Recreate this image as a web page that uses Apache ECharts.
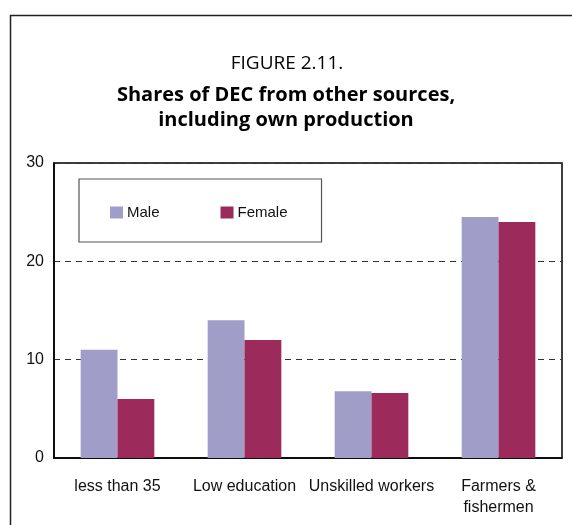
<!DOCTYPE html>
<html>
<head>
<meta charset="utf-8">
<script src="https://cdn.jsdelivr.net/npm/echarts@6/dist/echarts.min.js"></script>
<style>html,body{margin:0;padding:0;background:#fff}#c{width:572px;height:525px}</style>
</head>
<body>
<div id="c"></div>
<script>
var categories = ['less than 35', 'Low education', 'Unskilled workers', 'Farmers &\nfishermen'];
var maleValues = [11.0, 14.0, 6.8, 24.5];
var femaleValues = [6.0, 12.0, 6.6, 24.0];
var seriesNames = ['Male', 'Female'];
var yTicks = [0, 10, 20, 30];

var chart = echarts.init(document.getElementById('c'));
chart.setOption({
  animation: false,
  backgroundColor: '#fff',
  graphic: [{
    type: 'rect', left: 8, top: 13, z: 0,
    shape: { width: 620, height: 620 },
    style: { fill: 'none', stroke: '#222', lineWidth: 1.5 }
  }],
  title: [{
    text: 'FIGURE 2.11.',
    left: 282, top: 49, textAlign: 'center',
    textStyle: { fontFamily: 'Open Sans', fontWeight: 'normal', fontSize: 19, color: '#000' }
  }, {
    text: 'Shares of DEC from other sources,\nincluding own production',
    left: 281, top: 78, textAlign: 'center',
    textStyle: { fontFamily: 'Open Sans', fontWeight: 'bold', fontSize: 20, lineHeight: 25, color: '#000' }
  }],
  legend: {
    left: 79, top: 179,
    data: seriesNames,
    itemWidth: 13, itemHeight: 12, itemGap: 61,
    padding: [26, 34, 22, 31],
    borderColor: '#555', borderWidth: 1.2,
    icon: 'rect',
    textStyle: { fontFamily: 'Liberation Sans', fontSize: 15, color: '#111', padding: [0, 0, 0, -1] }
  },
  grid: { left: 54, right: 10, top: 163, bottom: 67, show: true, borderColor: '#000', borderWidth: 1.5 },
  xAxis: {
    type: 'category',
    data: categories,
    axisLine: { lineStyle: { color: '#000', width: 1.5 } },
    axisTick: { inside: true, length: 5, lineStyle: { color: '#000' } },
    axisLabel: { fontFamily: 'Liberation Sans', fontSize: 16, color: '#111', margin: 18, lineHeight: 21, interval: 0 }
  },
  yAxis: {
    type: 'value', min: yTicks[0], max: yTicks[yTicks.length - 1], interval: 10,
    axisLine: { show: true, lineStyle: { color: '#000', width: 1.5 } },
    axisTick: { show: false },
    axisLabel: { fontFamily: 'Liberation Sans', fontSize: 16, color: '#111', margin: 10, padding: [3, 0, 0, 0] },
    splitLine: { show: true, lineStyle: { color: '#333', type: [6, 5], width: 1 } }
  },
  series: [{
    name: seriesNames[0], type: 'bar', data: maleValues,
    itemStyle: { color: '#a09dc8' }, barGap: '0%', barCategoryGap: '42%'
  }, {
    name: seriesNames[1], type: 'bar', data: femaleValues,
    itemStyle: { color: '#9c2b5c' }, barGap: '0%', barCategoryGap: '42%'
  }]
});
</script>
</body>
</html>
